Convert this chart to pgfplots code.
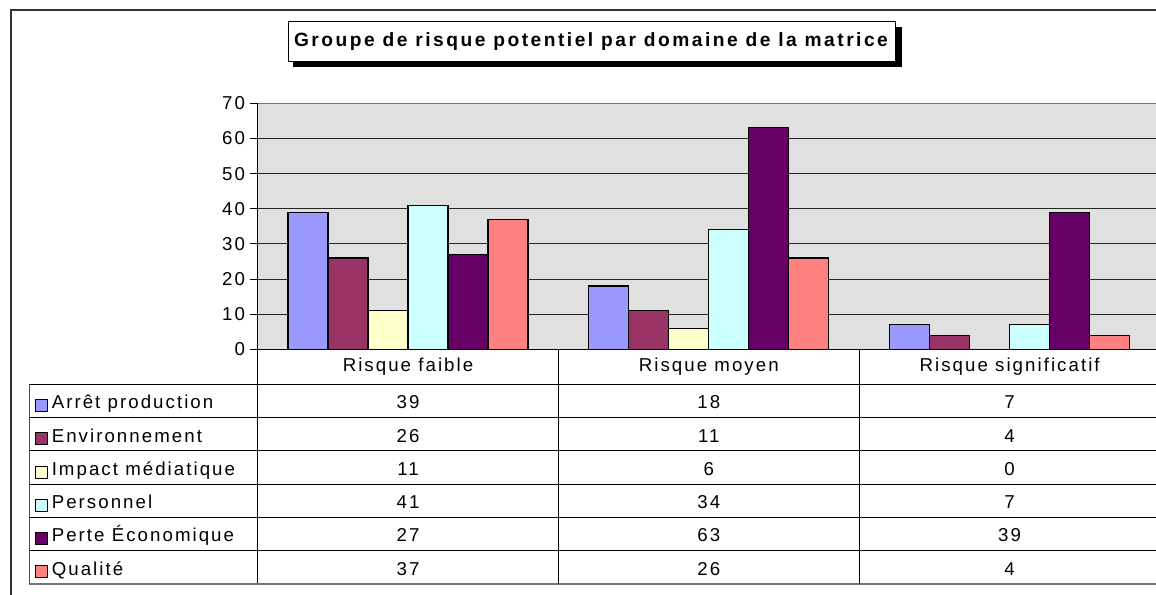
\documentclass[border=0pt]{standalone}
\usepackage{fontspec}
\setmainfont{Liberation Sans}[LetterSpace=11]
\newfontfamily\titlefont{Liberation Sans}[LetterSpace=13]
\usepackage{pgfplots}
\pgfplotsset{compat=1.18}
\usepackage{pgfplotstable}

\definecolor{cArret}{HTML}{9999FF}
\definecolor{cEnv}{HTML}{993366}
\definecolor{cImpact}{HTML}{FFFFCC}
\definecolor{cPers}{HTML}{CCFFFF}
\definecolor{cPerte}{HTML}{660066}
\definecolor{cQual}{HTML}{FF8080}
\definecolor{plotbg}{HTML}{E0E0E0}

\newcommand\fs{\fontsize{14}{16}\selectfont}

\pgfplotstableread{
x arret env impact pers perte qual
0.5 39 26 11 41 27 37
1.5 18 11 6 34 63 26
2.5 7 4 0 7 39 4
}\data

\begin{document}
\begin{tikzpicture}[x=0.75pt,y=0.75pt]
\useasboundingbox (0,0) rectangle (1156,595);
\clip (0,0) rectangle (1156,595);
\fill[white] (0,0) rectangle (1156,595);

% outer chart border
\draw[line width=1.5pt, black!80] (11,-20) -- (11,585) -- (1200,585);

% title box with shadow
\fill[black] (293.3,528.3) rectangle (901.7,568);
\draw[fill=white, line width=0.75pt] (288.3,533.3) rectangle (895.7,573);
\node[font=\fontsize{14.4}{16}\selectfont\titlefont\bfseries, inner sep=0pt] at (591,553.2)
  {Groupe de risque potentiel par domaine de la matrice};

\begin{axis}[
  at={(193.275pt,184.275pt)}, anchor=south west,
  scale only axis, width=676.725pt, height=184.5pt,
  xmin=0, xmax=3, ymin=0, ymax=70,
  axis line style={draw=none},
  axis background/.style={fill=plotbg},
  ytick={0,10,...,70}, xtick=\empty,
  ytick pos=left, tick align=outside, major tick length=6pt,
  tick style={black, line width=0.75pt},
  ymajorgrids, major grid style={black!85, line width=0.75pt},
  yticklabel style={font=\fs},
  /pgf/number format/assume math mode=true,
  ybar=0pt, bar width=30pt,
]
\addplot[fill=cArret, draw=black, line width=0.9pt] table[x=x,y=arret]{\data};
\addplot[fill=cEnv, draw=black, line width=0.9pt] table[x=x,y=env]{\data};
\addplot[fill=cImpact, draw=black, line width=0.9pt] table[x=x,y=impact]{\data};
\addplot[fill=cPers, draw=black, line width=0.9pt] table[x=x,y=pers]{\data};
\addplot[fill=cPerte, draw=black, line width=0.9pt] table[x=x,y=perte]{\data};
\addplot[fill=cQual, draw=black, line width=0.9pt] table[x=x,y=qual]{\data};
\end{axis}

% axis lines
\draw[black!55, line width=0.75pt] (257.7,491.7) -- (1170,491.7);
\draw[black, line width=0.75pt] (257.7,491.7) -- (257.7,11.0);
\draw[black, line width=0.75pt] (257.7,245.7) -- (1170,245.7);

% data table grid
\foreach \yy in {210.7,177.4,144.1,110.9,77.6,44.3} {
  \draw[black, line width=0.75pt] (29,\yy) -- (1170,\yy);
}
\draw[black!55, line width=1.2pt] (29,11.0) -- (1170,11.0);
\draw[black!70, line width=0.75pt] (29,210.7) -- (29,11.0);
\draw[black, line width=0.75pt] (558.3,245.7) -- (558.3,11.0);
\draw[black, line width=0.75pt] (859.3,245.7) -- (859.3,11.0);

% header
\node[font=\fs, anchor=base, inner sep=0pt] at (408,223.3) {Risque faible};
\node[font=\fs, anchor=base, inner sep=0pt] at (708.8,223.3) {Risque moyen};
\node[font=\fs, anchor=base, inner sep=0pt] at (1009.6,223.3) {Risque significatif};

% rows
\foreach \name/\col/\a/\b/\c [count=\k from 0] in {
  Arrêt production/cArret/39/18/7,
  Environnement/cEnv/26/11/4,
  Impact médiatique/cImpact/11/6/0,
  Personnel/cPers/41/34/7,
  Perte Économique/cPerte/27/63/39,
  Qualité/cQual/37/26/4} {
  \pgfmathsetmacro\rc{194.06-33.28*\k}
  \pgfmathsetmacro\bl{\rc-7.8}
  \pgfmathsetmacro\sqb{\rc-10.6}
  \pgfmathsetmacro\sqt{\rc+1.4}
  \draw[fill=\col, line width=0.75pt] (35,\sqb) rectangle (47,\sqt);
  \node[font=\fs, anchor=base west, inner sep=0pt] at (51.5,\bl) {\name};
  \node[font=\fs, anchor=base, inner sep=0pt] at (408,\bl) {\a};
  \node[font=\fs, anchor=base, inner sep=0pt] at (708.8,\bl) {\b};
  \node[font=\fs, anchor=base, inner sep=0pt] at (1009.6,\bl) {\c};
}
\end{tikzpicture}
\end{document}
